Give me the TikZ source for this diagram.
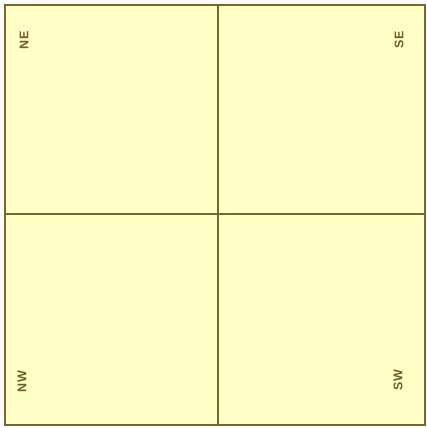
\documentclass[tikz,border=0pt]{standalone}
\usepackage{fontspec}
\newfontfamily\lblfont[LetterSpace=8]{Liberation Sans}
\usetikzlibrary{positioning}
\definecolor{paper}{HTML}{FFFEC4}
\definecolor{rule}{HTML}{7A6530}
\definecolor{ink}{HTML}{6E5E28}
\tikzset{
  frame/.style={draw=rule, line width=2pt, fill=paper},
  divider/.style={draw=rule, line width=2.4pt},
  quadlabel/.style={font=\lblfont\bfseries\fontsize{12.5}{14}\selectfont, text=ink,
    rotate=90, inner sep=0pt},
}
\begin{document}
\begin{tikzpicture}[x=1pt, y=-1pt]
  \useasboundingbox (0,0) rectangle (427,428);
  \draw[frame] (4.5,5.5) rectangle (424.5,424.5);
  \coordinate (top) at (218,5.5);
  \coordinate (bottom) at (218,424.5);
  \coordinate (left) at (4.5,214);
  \coordinate (right) at (424.5,214);
  \draw[divider] (top) -- (bottom);
  \draw[divider] (left) -- (right);
  \node[quadlabel] (ne) at (24,40) {NE};
  \node[quadlabel] (se) at (399,40) {SE};
  \node[quadlabel] (nw) at (22,382) {NW};
  \node[quadlabel] (sw) at (398,380) {SW};
\end{tikzpicture}
\end{document}
